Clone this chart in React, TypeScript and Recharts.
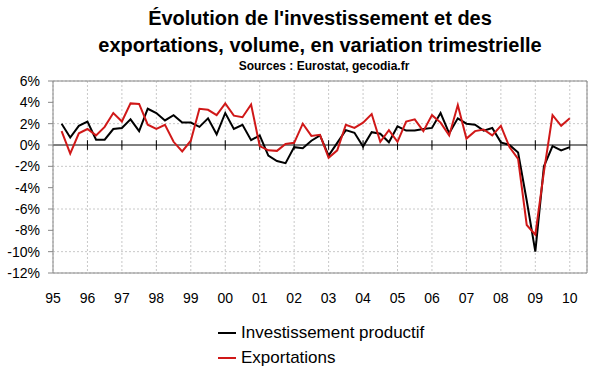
import { LineChart, Line, XAxis, YAxis, CartesianGrid, ReferenceLine } from 'recharts'

// quarterly growth, 1995 Q2 .. 2010 Q1
const INVEST = [
  2.0, 0.7, 1.8, 2.2, 0.5, 0.5, 1.5, 1.6, 2.4, 1.3,
  3.4, 3.0, 2.3, 2.8, 2.1, 2.1, 1.7, 2.5, 1.0, 3.0,
  1.5, 1.9, 0.45, 0.9, -1.0, -1.5, -1.7, -0.2, -0.3, 0.4,
  0.9, -1.0, 0.2, 1.4, 1.15, -0.15, 1.2, 1.05, 0.25, 1.75,
  1.35, 1.35, 1.5, 1.6, 3.0, 1.1, 2.5, 2.0, 1.9, 1.35,
  1.6, 0.25, 0.0, -0.7, -5.2, -10.0, -2.0, -0.1, -0.5, -0.2,
]
const EXPORTS = [
  1.3, -0.8, 1.1, 1.5, 0.9, 1.7, 3.0, 2.2, 3.9, 3.85,
  1.9, 1.5, 1.9, 0.3, -0.6, 0.4, 3.4, 3.3, 2.8, 3.9,
  2.75, 2.6, 3.8, -0.1, -0.5, -0.55, 0.1, 0.2, 2.0, 0.85,
  0.95, -1.2, -0.5, 1.9, 1.6, 2.1, 2.9, 0.3, 1.4, 0.3,
  2.2, 2.4, 1.3, 2.8, 2.1, 0.9, 3.75, 0.6, 1.3, 1.45,
  0.9, 1.8, -0.2, -1.3, -7.5, -8.4, -2.5, 2.8, 1.8, 2.5,
]
const YEARS = ['95', '96', '97', '98', '99', '00', '01', '02', '03', '04', '05', '06', '07', '08', '09', '10']
const Y_TICKS = [-12, -10, -8, -6, -4, -2, 0, 2, 4, 6]

const data = INVEST.map((v, i) => ({ q: i + 1, inv: v, exp: EXPORTS[i] }))
const xTicks = YEARS.map((_, i) => i * 4)

const font = '"Liberation Sans", Arial, sans-serif'
const RED = '#d01818'

export default function App() {
  return (
    <div style={{ position: 'absolute', left: 0, top: 0, width: 600, height: 372, background: '#fff', fontFamily: font }}>
      <div style={{ position: 'absolute', left: 0, width: 640, top: 5, textAlign: 'center', fontWeight: 700, fontSize: 20, lineHeight: '27px' }}>
        Évolution de l'investissement et des<br />exportations, volume, en variation trimestrielle
      </div>
      <div style={{ position: 'absolute', left: 0, width: 648, top: 59, textAlign: 'center', fontWeight: 700, fontSize: 12 }}>
        Sources : Eurostat, gecodia.fr
      </div>
      <LineChart width={600} height={372} data={data} margin={{ top: 81, right: 13, bottom: 69, left: 0 }}>
        <CartesianGrid stroke="#c8c8c8" strokeDasharray="2 2" />
        <XAxis
          dataKey="q"
          type="number"
          domain={[0, 62]}
          ticks={xTicks}
          tickFormatter={(v: number) => YEARS[v / 4]}
          height={30}
          tickLine={false}
          tickSize={8}
          tickMargin={12}
          axisLine={{ stroke: '#888' }}
          tick={{ fill: '#000', fontSize: 14, fontFamily: font }}
          allowDataOverflow
        />
        <YAxis
          domain={[-12, 6]}
          ticks={Y_TICKS}
          tickFormatter={(v: number) => `${v}%`}
          width={53}
          tickSize={5}
          tickMargin={8}
          axisLine={{ stroke: '#888' }}
          tickLine={{ stroke: '#888' }}
          tick={{ fill: '#000', fontSize: 14, fontFamily: font }}
          allowDataOverflow
        />
        <ReferenceLine y={6} stroke="#888" />
        <ReferenceLine x={62} stroke="#888" />
        <ReferenceLine y={0} stroke="#000" />
        {xTicks.slice(1).map(t => (
          <ReferenceLine key={t} segment={[{ x: t, y: -0.45 }, { x: t, y: 0.45 }]} stroke="#000" />
        ))}
        <Line dataKey="inv" stroke="#000" strokeWidth={2} dot={false} isAnimationActive={false} />
        <Line dataKey="exp" stroke={RED} strokeWidth={2} dot={false} isAnimationActive={false} />
      </LineChart>
      <div style={{ position: 'absolute', left: 218, top: 320, fontSize: 17, lineHeight: '25px' }}>
        <div style={{ display: 'flex', alignItems: 'center' }}>
          <span style={{ width: 18, height: 2, background: '#000', marginRight: 5 }} />Investissement productif
        </div>
        <div style={{ display: 'flex', alignItems: 'center' }}>
          <span style={{ width: 18, height: 2, background: RED, marginRight: 5 }} />Exportations
        </div>
      </div>
    </div>
  )
}
